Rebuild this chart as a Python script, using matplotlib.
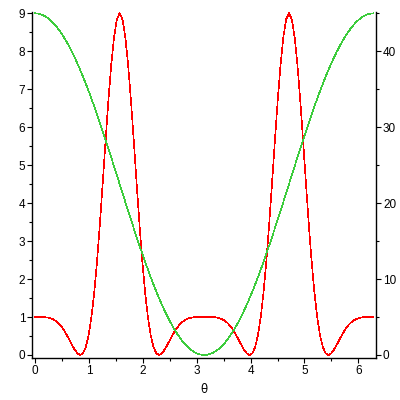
import numpy as np
import matplotlib
matplotlib.use("Agg")
import matplotlib.pyplot as plt

# theta sampled every 3 degrees, 0..360
theta_deg = list(range(0, 361, 3))

red_values = [
    1.000, 1.000, 0.999, 0.997, 0.991, 0.977, 0.953, 0.915, 0.859, 0.781, 0.681,
    0.560, 0.423, 0.280, 0.147, 0.045, 0.000, 0.044, 0.207, 0.519, 1.000, 1.659,
    2.489, 3.463, 4.534, 5.638, 6.699, 7.636, 8.370, 8.839, 9.000,
    8.839, 8.370, 7.636, 6.699, 5.638, 4.534, 3.463, 2.489, 1.659, 1.000, 0.519,
    0.207, 0.044, 0.000, 0.045, 0.147, 0.280, 0.423, 0.560, 0.681, 0.781, 0.859,
    0.915, 0.953, 0.977, 0.991, 0.997, 0.999, 1.000, 1.000,
    1.000, 0.999, 0.997, 0.991, 0.977, 0.953, 0.915, 0.859, 0.781, 0.681, 0.560,
    0.423, 0.280, 0.147, 0.045, 0.000, 0.044, 0.207, 0.519, 1.000, 1.659, 2.489,
    3.463, 4.534, 5.638, 6.699, 7.636, 8.370, 8.839, 9.000,
    8.839, 8.370, 7.636, 6.699, 5.638, 4.534, 3.463, 2.489, 1.659, 1.000, 0.519,
    0.207, 0.044, 0.000, 0.045, 0.147, 0.280, 0.423, 0.560, 0.681, 0.781, 0.859,
    0.915, 0.953, 0.977, 0.991, 0.997, 0.999, 1.000, 1.000,
]

green_values = [
    45.000, 44.969, 44.877, 44.723, 44.508, 44.233, 43.899, 43.506, 43.055, 42.548,
    41.986, 41.370, 40.703, 39.986, 39.221, 38.410, 37.555, 36.660, 35.725, 34.754,
    33.750, 32.715, 31.652, 30.563, 29.453, 28.323, 27.178, 26.020, 24.852, 23.678,
    22.500, 21.322, 20.148, 18.980, 17.822, 16.677, 15.547, 14.437, 13.348, 12.285,
    11.250, 10.246, 9.275, 8.340, 7.445, 6.590, 5.779, 5.014, 4.297, 3.630,
    3.014, 2.452, 1.945, 1.494, 1.101, 0.767, 0.492, 0.277, 0.123, 0.031,
    0.000,
    0.031, 0.123, 0.277, 0.492, 0.767, 1.101, 1.494, 1.945, 2.452, 3.014,
    3.630, 4.297, 5.014, 5.779, 6.590, 7.445, 8.340, 9.275, 10.246, 11.250,
    12.285, 13.348, 14.437, 15.547, 16.677, 17.822, 18.980, 20.148, 21.322, 22.500,
    23.678, 24.852, 26.020, 27.178, 28.323, 29.453, 30.563, 31.652, 32.715, 33.750,
    34.754, 35.725, 36.660, 37.555, 38.410, 39.221, 39.986, 40.703, 41.370, 41.986,
    42.548, 43.055, 43.506, 43.899, 44.233, 44.508, 44.723, 44.877, 44.969, 45.000,
]

x_ticks = [0, 1, 2, 3, 4, 5, 6]
left_ticks = [0, 1, 2, 3, 4, 5, 6, 7, 8, 9]
right_ticks = [0, 10, 20, 30, 40]

plt.rcParams['font.family'] = ['Liberation Sans Narrow', 'Liberation Sans', 'DejaVu Sans']

theta = np.deg2rad(theta_deg)

fig = plt.figure(figsize=(4, 4), dpi=100)
ax = fig.add_axes([0.0808, 0.1043, 0.8592, 0.8645])
ax2 = ax.twinx()

ax.plot(theta, red_values, color='#ff0000', lw=0.45, antialiased=False)
ax2.plot(theta, green_values, color='#3ccc3c', lw=0.45, antialiased=False)

ax.set_xlim(-0.05, 6.327)
ax.set_ylim(-0.087, 9.021)
ax2.set_ylim(-0.435, 45.105)

for a in (ax, ax2):
    a.spines['top'].set_visible(False)
    for s in ('left', 'right', 'bottom'):
        a.spines[s].set_linewidth(1.0)
ax.spines['right'].set_visible(False)
ax2.spines['left'].set_visible(False)
ax2.spines['bottom'].set_visible(False)

ax.set_xticks(x_ticks)
ax.set_xticks(np.arange(0.5, 6.3, 1.0), minor=True)
ax.set_yticks(left_ticks)
ax.set_yticks(np.arange(0.5, 9, 1.0), minor=True)
ax2.set_yticks(right_ticks)
ax2.set_yticks([5, 15, 25, 35, 45], minor=True)

ax.tick_params(which='major', direction='out', length=3.5, width=0.8, labelsize=8.5, pad=1.5)
ax.tick_params(which='minor', direction='out', length=2.5, width=0.8)
ax2.tick_params(which='major', direction='out', length=3.5, width=0.8, labelsize=8.5, pad=1.5)
ax2.tick_params(which='minor', direction='out', length=2.5, width=0.8)

ax.set_xlabel('θ', fontsize=8.5, labelpad=4, family=['DejaVu Sans'])

fig.savefig('out.png', dpi=100)
